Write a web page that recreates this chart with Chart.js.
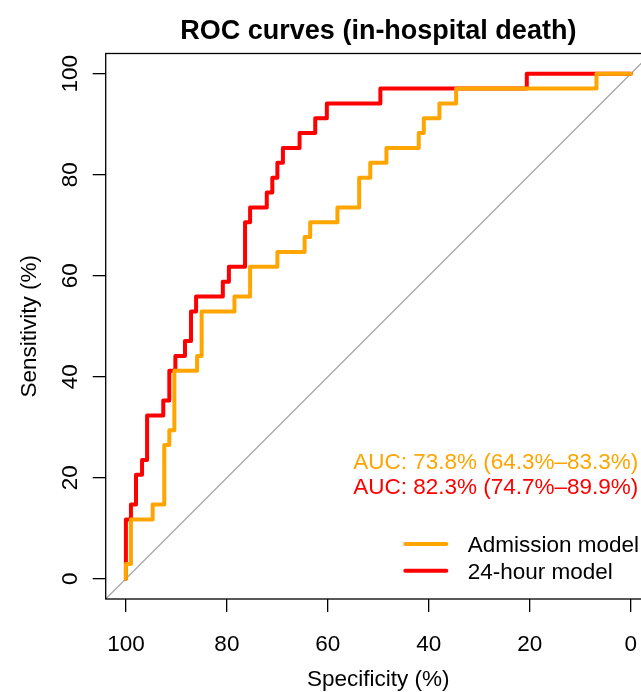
<!DOCTYPE html>
<html><head><meta charset="utf-8">
<script src="https://cdn.jsdelivr.net/npm/chart.js@4.4.1/dist/chart.umd.min.js"></script>
<style>html,body{margin:0;padding:0;overflow:hidden;background:#fff;width:641px;height:692px}canvas{display:block}</style>
</head><body><canvas id="c" width="662" height="692"></canvas>
<script>
const titleText = 'ROC curves (in-hospital death)';
const xTitle = 'Specificity (%)';
const yTitle = 'Sensitivity (%)';
const tickValues = [0, 20, 40, 60, 80, 100];
const seriesNames = ['Admission model', '24-hour model'];
const aucLabels = ['AUC: 73.8% (64.3%–83.3%)', 'AUC: 82.3% (74.7%–89.9%)'];
const axisMin = -4, axisMax = 104;

// Admission model ROC vertices (specificity %, sensitivity %)
const admissionSpec = [100,100,99.0,99.0,94.7,94.7,92.4,92.4,91.4,91.4,90.4,90.4,85.9,85.9,85.0,85.0,78.5,78.5,75.4,75.4,70.0,70.0,64.6,64.6,63.5,63.5,58.1,58.1,53.8,53.8,51.6,51.6,48.4,48.4,42.0,42.0,41.0,41.0,37.9,37.9,34.6,34.6,6.8,6.8,0];
const admissionSens = [0,2.94,2.94,11.76,11.76,14.71,14.71,26.47,26.47,29.41,29.41,41.18,41.18,44.12,44.12,52.94,52.94,55.88,55.88,61.76,61.76,64.71,64.71,67.65,67.65,70.59,70.59,73.53,73.53,79.41,79.41,82.35,82.35,85.29,85.29,88.24,88.24,91.18,91.18,94.12,94.12,97.06,97.06,100,100];

// 24-hour model ROC vertices
const hour24Spec = [100,100,99.0,99.0,98.0,98.0,96.8,96.8,95.8,95.8,92.6,92.6,91.4,91.4,90.2,90.2,88.3,88.3,87.1,87.1,86.1,86.1,80.8,80.8,79.6,79.6,76.4,76.4,75.4,75.4,72.1,72.1,71.0,71.0,70.0,70.0,68.9,68.9,65.6,65.6,62.5,62.5,60.2,60.2,49.6,49.6,20.6,20.6,0];
const hour24Sens = [0,11.76,11.76,14.71,14.71,20.59,20.59,23.53,23.53,32.35,32.35,35.29,35.29,41.18,41.18,44.12,44.12,47.06,47.06,52.94,52.94,55.88,55.88,58.82,58.82,61.76,61.76,70.59,70.59,73.53,73.53,76.47,76.47,79.41,79.41,82.35,82.35,85.29,85.29,88.24,88.24,91.18,91.18,94.12,94.12,97.06,97.06,100,100];

const seriesColors = ['#FFA500', '#FF0000'];
const FONT = '"Liberation Sans", Arial, Helvetica, sans-serif';

const toPts = (xs, ys) => xs.map((x, i) => ({x: x, y: ys[i]}));
const chanceLine = [axisMax, axisMin].map(v => ({x: v, y: 100 - v}));

const rocDecor = {
  id: 'rocDecor',
  afterDraw(chart) {
    const ctx = chart.ctx, a = chart.chartArea, xs = chart.scales.x, ys = chart.scales.y;
    ctx.save();
    ctx.strokeStyle = '#000';
    ctx.lineWidth = 1.3;
    ctx.strokeRect(a.left, a.top, a.right - a.left, a.bottom - a.top);
    ctx.fillStyle = '#000';
    const cx = (a.left + a.right) / 2;
    ctx.textBaseline = 'alphabetic';
    // title
    ctx.font = 'bold 27px ' + FONT;
    ctx.textAlign = 'center';
    ctx.fillText(titleText, cx, 39);
    // x tick labels
    ctx.font = '22.5px ' + FONT;
    xs.ticks.forEach(t => ctx.fillText(String(t.value), xs.getPixelForValue(t.value), 651));
    ctx.fillText(xTitle, cx, 686);
    // y tick labels (rotated)
    ys.ticks.forEach(t => {
      ctx.save();
      ctx.translate(77, ys.getPixelForValue(t.value));
      ctx.rotate(-Math.PI / 2);
      ctx.fillText(String(t.value), 0, 0);
      ctx.restore();
    });
    ctx.save();
    ctx.translate(36, (a.top + a.bottom) / 2);
    ctx.rotate(-Math.PI / 2);
    ctx.fillText(yTitle, 0, 0);
    ctx.restore();
    // AUC annotations
    ctx.textAlign = 'right';
    ctx.fillStyle = seriesColors[0];
    ctx.fillText(aucLabels[0], 638.3, 469.3);
    ctx.fillStyle = seriesColors[1];
    ctx.fillText(aucLabels[1], 638.3, 494.3);
    // legend
    const legY = [544, 570.7];
    ctx.textAlign = 'left';
    ctx.lineCap = 'round';
    ctx.lineWidth = 4;
    seriesNames.forEach((n, i) => {
      ctx.strokeStyle = seriesColors[i];
      ctx.beginPath();
      ctx.moveTo(405.3, legY[i]);
      ctx.lineTo(446.3, legY[i]);
      ctx.stroke();
      ctx.fillStyle = '#000';
      ctx.fillText(n, 467.7, legY[i] + 7.8);
    });
    ctx.restore();
  }
};

const lineDs = (label, data, color, w) => ({
  label: label, data: data, showLine: true, borderColor: color, backgroundColor: color,
  borderWidth: w, pointRadius: 0, pointHoverRadius: 0, fill: false, tension: 0,
  borderCapStyle: 'round', borderJoinStyle: 'round'
});

const axisCommon = {
  type: 'linear', min: axisMin, max: axisMax,
  afterBuildTicks: s => { s.ticks = tickValues.map(v => ({value: v})); },
  ticks: {display: false},
  title: {display: false},
  grid: {drawOnChartArea: false, drawTicks: true, tickLength: 13, color: '#000', lineWidth: 1.3},
  border: {display: false}
};

new Chart(document.getElementById('c'), {
  type: 'scatter',
  data: {
    datasets: [
      lineDs(seriesNames[0], toPts(admissionSpec, admissionSens), seriesColors[0], 4),
      lineDs(seriesNames[1], toPts(hour24Spec, hour24Sens), seriesColors[1], 4),
      lineDs('chance', chanceLine, '#A8A8A8', 1.3)
    ]
  },
  options: {
    responsive: false, animation: false, devicePixelRatio: 1,
    layout: {padding: {top: 53.5, right: 11, left: 0, bottom: 0}},
    plugins: {legend: {display: false}, title: {display: false}, tooltip: {enabled: false}},
    events: [],
    scales: {
      x: Object.assign({}, axisCommon, {position: 'bottom', reverse: true, afterFit: s => { s.height = 93; }}),
      y: Object.assign({}, axisCommon, {position: 'left', afterFit: s => { s.width = 105.7; }})
    }
  },
  plugins: [rocDecor]
});
</script>
</body></html>
